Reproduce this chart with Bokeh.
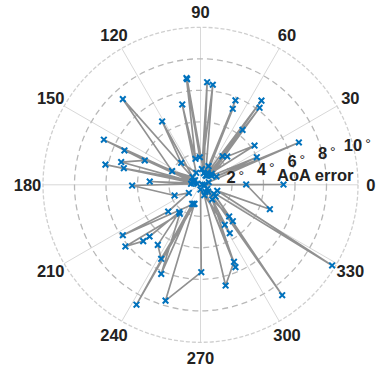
import numpy as np
from bokeh.plotting import figure
from bokeh.models import Range1d
from bokeh.embed import file_html
from bokeh.resources import INLINE
from bokeh.core.properties import value

# ---- data ----
theta_deg = [0.0, 0.2, 10.0, 0.4, 340.6, 340.2, 328.5, 329.0, 306.5, 325.9,
             311.6, 322.0, 312.2, 308.5, 293.0, 305.0, 293.5, 284.0, 290.0, 301.2,
             318.0, 301.3, 270.0, 270.5, 253.2, 252.5, 241.9, 246.4, 246.2, 234.5,
             219.4, 224.5, 225.4, 232.0, 234.6, 242.0, 250.0, 213.0, 219.6, 215.0,
             202.4, 180.6, 174.0, 176.3, 166.6, 168.0, 163.0, 167.8, 150.0, 155.0,
             156.4, 164.0, 160.0, 155.7, 140.0, 132.2, 154.3, 135.0, 121.2, 131.3,
             109.7, 102.8, 100.9, 97.5, 91.5, 97.2, 74.0, 86.3, 85.0, 83.0,
             61.7, 67.5, 66.7, 67.0, 60.0, 54.1, 50.0, 52.6, 45.0, 52.5,
             52.4, 55.0, 36.0, 46.7, 40.0, 26.1, 27.4, 23.3, 17.4]
aoa_error = [0.25, 5.27, 0.11, 2.90, 4.67, 1.13, 9.80, 0.50, 8.72, 1.02,
             3.09, 1.21, 2.71, 1.19, 5.68, 0.55, 5.33, 6.59, 0.70, 3.59,
             0.65, 2.97, 0.30, 5.55, 7.68, 1.27, 8.63, 1.32, 6.18, 2.26,
             6.17, 5.10, 4.61, 2.20, 4.68, 5.32, 1.30, 5.88, 2.66, 0.90,
             1.78, 4.34, 0.60, 3.23, 0.44, 6.17, 0.22, 4.98, 0.50, 6.77,
             3.86, 5.24, 0.55, 5.30, 0.45, 7.34, 2.00, 0.70, 4.70, 1.86,
             0.81, 5.23, 1.68, 6.83, 1.75, 6.76, 0.77, 6.53, 1.00, 6.40,
             0.67, 5.80, 1.29, 5.24, 0.90, 6.60, 0.80, 4.39, 1.00, 6.16,
             2.29, 0.70, 4.24, 2.47, 0.90, 3.98, 1.14, 6.80, 0.55]

ring_values = [2, 4, 6, 8, 10]
ring_labels = ["2", "4", "6", "8", "10"]
angle_ticks = [0, 30, 60, 90, 120, 150, 180, 210, 240, 270, 300, 330]
angle_labels = [str(a) for a in angle_ticks]
r_axis_label = "AoA error"

# ---- geometry ----
S = 15.75          # pixels per unit of error
W, H = 376, 371
cx, cy = 200.0, 184.3

p = figure(width=W, height=H,
           x_range=Range1d(-cx / S, (W - cx) / S),
           y_range=Range1d(-(H - cy) / S, cy / S),
           output_backend="svg", toolbar_location=None,
           x_axis_type=None, y_axis_type=None, min_border=0)
p.grid.visible = False
p.outline_line_color = None
p.background_fill_color = "white"
p.border_fill_color = "white"

rmax = ring_values[-1]
rad = np.deg2rad(angle_ticks)
p.segment(x0=0, y0=0, x1=rmax * np.cos(rad), y1=rmax * np.sin(rad),
          line_color="#d8d8d8", line_width=1)
p.circle(x=0, y=0, radius=ring_values[:-1], fill_color=None,
         line_color="#b8b8b8", line_dash="6 4", line_width=1.3)
p.circle(x=0, y=0, radius=rmax, fill_color=None,
         line_color="#cfcfcf", line_dash="4 2", line_width=1.3)

th = np.deg2rad(theta_deg)
r = np.array(aoa_error)
xs = r * np.cos(th)
ys = r * np.sin(th)
p.line(xs, ys, line_color="#919191", line_width=1.7)
p.scatter(xs, ys, marker="x", size=8, line_color="#0072BD", line_width=2)

# angle labels (clamped inside the canvas)
font = value("Liberation Sans")
lx, ly = [], []
for a, lab in zip(angle_ticks, angle_labels):
    px = cx + 173 * np.cos(np.deg2rad(a))
    py = cy - 173 * np.sin(np.deg2rad(a))
    hw = len(lab) * 4.7
    px = min(max(px, hw + 1), W - hw - 1)
    py = min(max(py, 8), H - 8)
    lx.append((px - cx) / S)
    ly.append((cy - py) / S)
p.text(x=lx, y=ly, text=angle_labels, text_align="center", text_baseline="middle",
       text_font=font, text_font_size="16.5px", text_font_style="bold",
       text_color="#222222")

# radial tick labels with degree marks
tl_ang = np.deg2rad(14.5)
tx = [v * np.cos(tl_ang) for v in ring_values]
ty = [v * np.sin(tl_ang) for v in ring_values]
p.text(x=tx, y=ty, text=ring_labels, text_align="center", text_baseline="middle",
       text_font=font, text_font_size="16.5px", text_font_style="bold",
       text_color="#222222")
p.text(x=tx, y=ty, text=["°"] * len(ring_labels),
       x_offset=[len(s) * 4.6 + 3.0 for s in ring_labels], y_offset=-1,
       text_align="left", text_baseline="alphabetic",
       text_font=font, text_font_size="14px", text_color="#222222")

la = np.deg2rad(5.1)
p.text(x=[7.33 * np.cos(la)], y=[7.33 * np.sin(la)], text=[r_axis_label],
       text_align="center", text_baseline="middle",
       text_font=font, text_font_size="16.5px", text_font_style="bold",
       text_color="#222222")

open("out.html", "w").write(file_html(p, INLINE))
